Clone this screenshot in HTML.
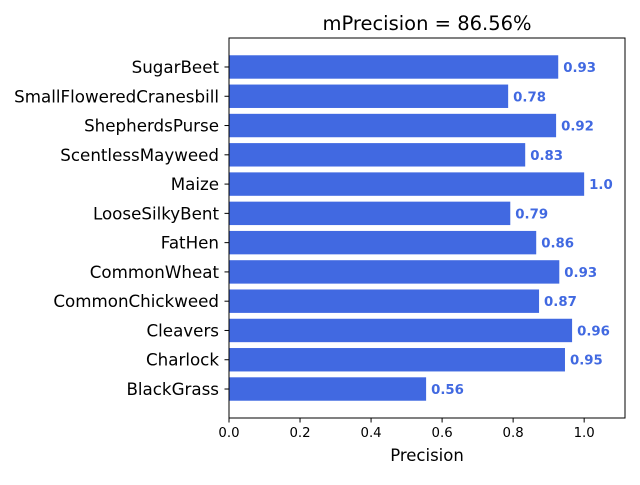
<!DOCTYPE html>
<html><head><meta charset="utf-8"><style>
body{margin:0;background:#fff;}
svg{font-family:"DejaVu Sans","Liberation Sans",sans-serif;}
</style></head><body>
<svg id="chart" width="640" height="480"></svg>
<script>
const categories=["SugarBeet","SmallFloweredCranesbill","ShepherdsPurse","ScentlessMayweed","Maize","LooseSilkyBent","FatHen","CommonWheat","CommonChickweed","Cleavers","Charlock","BlackGrass"];
const values=[0.927,0.786,0.921,0.834,1.0,0.792,0.865,0.930,0.873,0.966,0.946,0.555];
const valueLabels=["0.93","0.78","0.92","0.83","1.0","0.79","0.86","0.93","0.87","0.96","0.95","0.56"];
const xTicks=[0,0.2,0.4,0.6,0.8,1.0];
const xTickLabels=["0.0","0.2","0.4","0.6","0.8","1.0"];
const svg=document.getElementById('chart');
const NS="http://www.w3.org/2000/svg";
const L=229,R=625,T=38,B=418,xMax=1.115;
const n=categories.length;
const yMin=-0.99,yMax=n-1+0.99;
function xs(v){return L+v/xMax*(R-L);}
function ys(i){return T+(i-yMin)/(yMax-yMin)*(B-T);}
function mk(tag,attrs,text){const e=document.createElementNS(NS,tag);for(const k in attrs)e.setAttribute(k,attrs[k]);if(text!==undefined)e.textContent=text;svg.appendChild(e);return e;}
const step=(B-T)/(yMax-yMin);
categories.forEach((c,i)=>{
  const cy=ys(i);
  const b=mk('rect',{x:xs(0),y:cy-0.4*step,width:xs(values[i])-xs(0),height:0.8*step,fill:'#4169E1'});
  
  
  const t=mk('text',{x:xs(values[i])+5,y:cy+5,'font-size':13.3,'font-weight':'bold',fill:'#4169E1'},valueLabels[i]);
  
  
  mk('line',{x1:L-4.5,x2:L,y1:cy,y2:cy,stroke:'#000','stroke-width':1});
  const yl=mk('text',{x:L-10,y:cy+6,'font-size':16.7,'text-anchor':'end',fill:'#000'},c);
  
  
});
xTicks.forEach((v,i)=>{
  const x=xs(v);
  mk('line',{x1:x,x2:x,y1:B,y2:B+4.5,stroke:'#000','stroke-width':1});
  const tl=mk('text',{x:x,y:B+19,'font-size':13.3,'text-anchor':'middle',fill:'#000'},xTickLabels[i]);
  
  
});
const frame=mk('rect',{x:L,y:T,width:R-L,height:B-T,fill:'none',stroke:'#000','stroke-width':1});


const title=mk('text',{x:(L+R)/2,y:30,'font-size':19.5,'text-anchor':'middle',fill:'#000'},'mPrecision = 86.56%');


const xl=mk('text',{x:(L+R)/2,y:461,'font-size':16.5,'text-anchor':'middle',fill:'#000'},'Precision');


</script>
</body></html>
